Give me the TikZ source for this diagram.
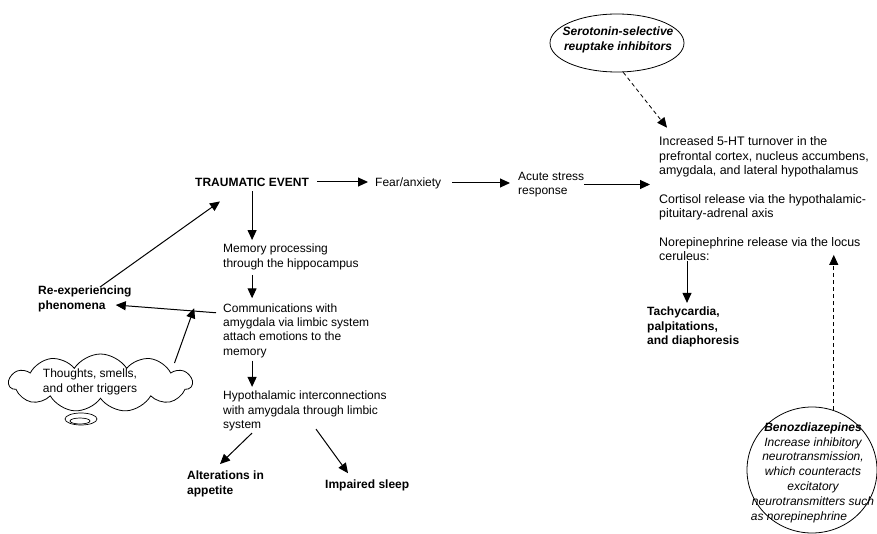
\documentclass[tikz,border=0pt]{standalone}
\usepackage{fontspec}
\setmainfont{Liberation Sans}
\usetikzlibrary{arrows.meta,shapes.geometric,shapes.symbols,calc}
\begin{document}
\begin{tikzpicture}[x=1pt,y=-1pt,
  txt/.style={inner sep=0pt, anchor=west, align=left, font=\fontsize{12}{14.3}\selectfont},
  widetxt/.style={txt, font=\fontsize{12.4}{14.3}\selectfont},
  boldtxt/.style={txt, font=\fontsize{12}{14.3}\selectfont\bfseries},
  arr/.style={line width=1pt, -{Triangle[length=10pt,width=9pt]}},
  darr/.style={line width=0.8pt, dash pattern=on 4pt off 3pt, -{Triangle[length=10pt,width=9pt]}},
  oval/.style={draw, line width=0.8pt, ellipse, inner sep=0pt},
]
\useasboundingbox (0,0) rectangle (877,534);

% stress response chain
\node[boldtxt] (te) at (195,182) {TRAUMATIC EVENT};
\node[txt] (fear) at (375,183) {Fear/anxiety};
\node[txt] (acute) at (518,184.5) {Acute stress\\response};
\node[widetxt] (inc) at (659,157) {Increased 5-HT turnover in the\\prefrontal cortex, nucleus accumbens,\\amygdala, and lateral hypothalamus};
\node[widetxt] (cort) at (659,207) {Cortisol release via the hypothalamic-\\pituitary-adrenal axis};
\node[widetxt] (nore) at (659,249) {Norepinephrine release via the locus\\ceruleus:};
\node[boldtxt] (tachy) at (647,327) {Tachycardia,\\palpitations,\\and diaphoresis};

% memory chain
\node[txt] (mem) at (223,257) {Memory processing\\through the hippocampus};
\node[txt] (comm) at (223,330.5) {Communications with\\amygdala via limbic system\\attach emotions to the\\memory};
\node[txt] (hyp) at (223,411) {Hypothalamic interconnections\\with amygdala through limbic\\system};
\node[boldtxt] (alt) at (187,484) {Alterations in\\appetite};
\node[boldtxt] (sleep) at (325,485) {Impaired sleep};
\node[boldtxt] (reexp) at (38,299) {Re-experiencing\\phenomena};

% triggers cloud with its small thought bubble
\node[cloud, draw, line width=0.8pt, cloud puffs=11, cloud puff arc=115, cloud ignores aspect,
      minimum width=183pt, minimum height=58pt, inner sep=0pt] (cloud) at (100.5,383) {};
\node[inner sep=0pt, align=center, font=\fontsize{12}{14.3}\selectfont] (trig) at (90,382) {Thoughts, smells,\\and other triggers};
\node[draw, line width=0.7pt, ellipse, minimum width=32pt, minimum height=12pt, inner sep=0pt] (bub) at (81,419) {};
\node[draw, line width=0.7pt, ellipse, minimum width=20pt, minimum height=6pt, inner sep=0pt] (bubin) at (80,421) {};

% drug ovals
\node[oval, minimum width=134pt, minimum height=58pt] (ssri) at (617,43) {};
\node[inner sep=0pt, align=center, font=\fontsize{12}{14.3}\selectfont\bfseries\itshape] (ssritext) at (618,40) {Serotonin-selective\\reuptake inhibitors};
\node[oval, minimum width=130pt, minimum height=126pt] (benzo) at (812,470) {};
\node[inner sep=0pt, align=center, font=\fontsize{12}{14.8}\selectfont\itshape] (benzotext) at (813,472.5)
  {\textbf{Benozdiazepines}\\Increase inhibitory\\neurotransmission,\\which counteracts\\excitatory\\neurotransmitters such\\as norepinephrine\hspace*{28pt}};

% solid connectors
\draw[arr, shorten <=8pt, shorten >=7pt] (te.east) -- (te.east -| fear.west);
\draw[arr, shorten <=11pt, shorten >=8pt] (fear.east) -- (fear.east -| acute.west);
\draw[arr, shorten >=9pt] (acute.east) -- (acute.east -| inc.west);
\draw[arr, shorten <=5pt, shorten >=4pt] (te.south) -- (te.south |- mem.north);
\draw[arr, shorten <=5pt, shorten >=5pt] (mem.south -| te.south) -- (comm.north -| te.south);
\draw[arr, shorten <=3pt, shorten >=4pt] (comm.south -| te.south) -- (hyp.north -| te.south);
\draw[arr] ($(hyp.south west)+(29,2)$) -- ($(alt.north west)+(33,-7)$);
\draw[arr] ($(hyp.south west)+(93,-2)$) -- ($(sleep.north west)+(23,-6)$);
\draw[arr] ($(comm.north west)+(-7,9.5)$) -- coordinate[pos=0.228] (hit) ($(reexp.east)+(-16,6)$);
\draw[arr] ($(reexp.north west)+(62,1)$) -- ($(te.south west)+(25,15)$);
\draw[arr, shorten >=-3pt] ($(cloud.center)+(74,-20)$) -- (hit);
\draw[arr, shorten >=4pt] ([xshift=28pt]nore.south west) -- ([xshift=28pt]nore.south west |- tachy.north);

% dashed drug connectors
\draw[darr] (ssri.-78) -- ($(inc.north west)+(8,-9)$);
\draw[darr] (benzo.70) -- ($(benzo.70 |- nore.south)+(0,-6)$);
\end{tikzpicture}
\end{document}
